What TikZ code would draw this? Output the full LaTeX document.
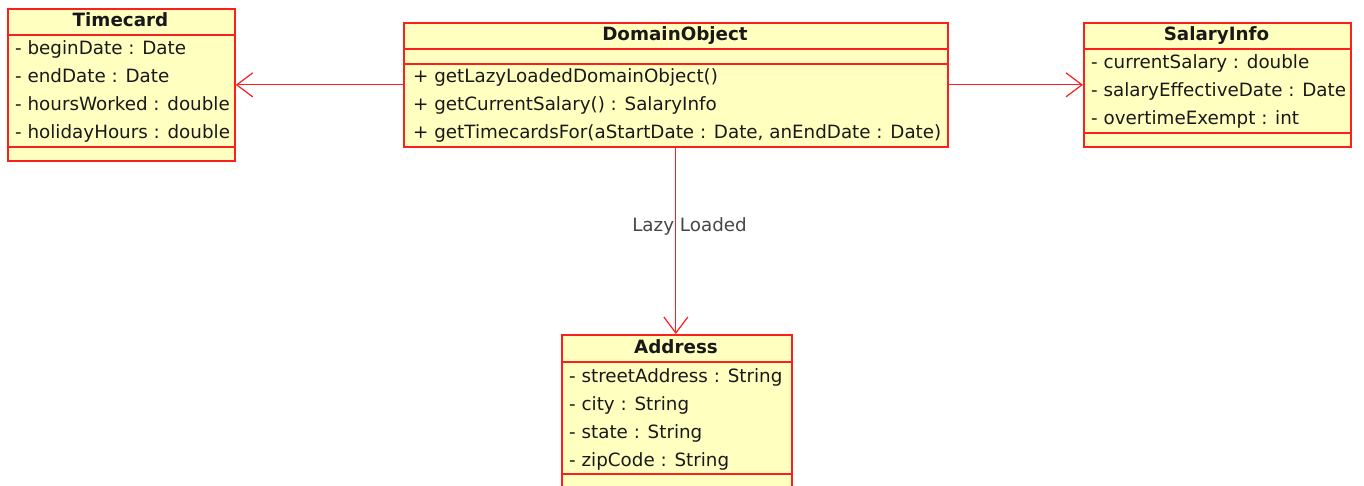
\documentclass[tikz,border=0pt]{standalone}
\usepackage{fontspec}
\setmainfont{DejaVu Sans}
\usetikzlibrary{arrows.meta,positioning}
\definecolor{umlfill}{RGB}{255,255,192}
\definecolor{umlred}{RGB}{255,30,30}
\definecolor{umltext}{RGB}{25,25,25}
\definecolor{lblgray}{RGB}{70,70,70}
\newcommand{\umlfont}{\fontsize{18.3}{20}\selectfont}
\tikzset{
    classsty/.style={draw=umlred,fill=umlfill,line width=1.7pt,rectangle,anchor=north west,inner sep=0pt},
    titlesty/.style={anchor=base,font=\umlfont\bfseries,text=umltext,inner sep=0pt},
    membersty/.style={anchor=base west,font=\umlfont,text=umltext,inner sep=0pt},
    sepsty/.style={draw=umlred,line width=1.5pt},
    linksty/.style={draw=umlred,line width=1.2pt,-{Straight Barb[length=16pt,width=24pt,line width=1.2pt]}},
    lblsty/.style={anchor=base,font=\umlfont,text=lblgray,inner sep=0pt},
}

\begin{document}
\begin{tikzpicture}[x=1pt,y=-1pt]
\useasboundingbox (0,0) rectangle (1364,486);

% class boxes
\node[classsty,minimum width=227pt,minimum height=152pt] (tc) at (7,8) {};
\node[classsty,minimum width=544pt,minimum height=124pt] (dom) at (403,22) {};
\node[classsty,minimum width=267pt,minimum height=124pt] (sal) at (1083,22) {};
\node[classsty,minimum width=230pt,minimum height=170pt] (addr) at (561,334) {};

% compartments
\draw[sepsty] ([yshift=-27pt]tc.north west) -- ([yshift=-27pt]tc.north east);
\draw[sepsty] ([yshift=-139pt]tc.north west) -- ([yshift=-139pt]tc.north east);
\draw[sepsty] ([yshift=-27pt]dom.north west) -- ([yshift=-27pt]dom.north east);
\draw[sepsty] ([yshift=-42pt]dom.north west) -- ([yshift=-42pt]dom.north east);
\draw[sepsty] ([yshift=-27pt]sal.north west) -- ([yshift=-27pt]sal.north east);
\draw[sepsty] ([yshift=-111pt]sal.north west) -- ([yshift=-111pt]sal.north east);
\draw[sepsty] ([yshift=-28pt]addr.north west) -- ([yshift=-28pt]addr.north east);
\draw[sepsty] ([yshift=-140pt]addr.north west) -- ([yshift=-140pt]addr.north east);

% Timecard
\node[titlesty] (tc-name) at (120.5,27) {Timecard};
\node[membersty] (tc-a1) at (15,55) {- beginDate : Date};
\node[membersty] (tc-a2) at (15,83) {- endDate : Date};
\node[membersty] (tc-a3) at (15,111) {- hoursWorked : double};
\node[membersty] (tc-a4) at (15,139) {- holidayHours : double};

% DomainObject
\node[titlesty] (dom-name) at (675,41) {DomainObject};
\node[membersty] (dom-m1) at (413,83) {+ getLazyLoadedDomainObject()};
\node[membersty] (dom-m2) at (413,111) {+ getCurrentSalary() : SalaryInfo};
\node[membersty] (dom-m3) at (413,139) {+ getTimecardsFor(aStartDate : Date, anEndDate : Date)};

% SalaryInfo
\node[titlesty] (sal-name) at (1216.5,41) {SalaryInfo};
\node[membersty] (sal-a1) at (1091,69) {- currentSalary : double};
\node[membersty] (sal-a2) at (1091,97) {- salaryEffectiveDate : Date};
\node[membersty] (sal-a3) at (1091,125) {- overtimeExempt : int};

% Address
\node[titlesty] (addr-name) at (676,353) {Address};
\node[membersty] (addr-a1) at (569,382) {- streetAddress : String};
\node[membersty] (addr-a2) at (569,410) {- city : String};
\node[membersty] (addr-a3) at (569,438) {- state : String};
\node[membersty] (addr-a4) at (569,466) {- zipCode : String};

% associations
\node[lblsty] (lazy) at (689.5,232) {Lazy Loaded};
\draw[linksty] (dom.west) -- (tc.east);
\draw[linksty] (dom.east) -- (sal.west);
\draw[linksty] (dom.south) -- (dom.south |- addr.north);
\end{tikzpicture}
\end{document}
